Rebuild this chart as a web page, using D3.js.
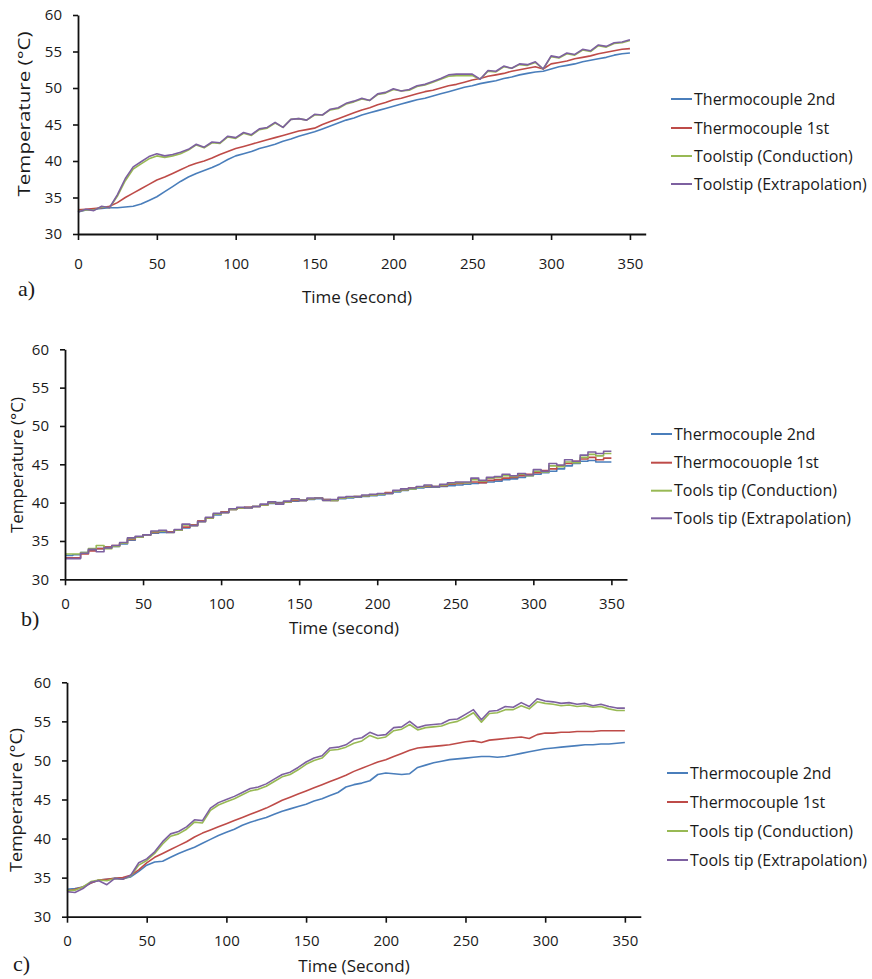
<!DOCTYPE html>
<html>
<head>
<meta charset="utf-8">
<script src="https://cdn.jsdelivr.net/npm/d3@7"></script>
<style>
  html, body { margin: 0; padding: 0; background: #ffffff; }
  svg text { font-family: "Open Sans", sans-serif; fill: #1a1a1a; }
  .panel-tag { font-family: "Liberation Serif", serif; }
</style>
</head>
<body>
<svg id="chart" width="872" height="979"></svg>
<script>
// ── Shared x values (seconds) ──────────────────────
const timeSec = [0,5,10,15,20,25,30,35,40,45,50,55,60,65,70,75,80,85,90,95,
  100,105,110,115,120,125,130,135,140,145,150,155,160,165,170,175,180,185,190,195,
  200,205,210,215,220,225,230,235,240,245,250,255,260,265,270,275,280,285,290,295,
  300,305,310,315,320,325,330,335,340,345,350];

const xTicks = [0, 50, 100, 150, 200, 250, 300, 350];
const yTicks = [30, 35, 40, 45, 50, 55, 60];

// ── Panel a ────────────────────────────────────────
const aTc2 = [33.0,33.3,33.4,33.5,33.6,33.6,33.7,33.8,34.1,34.6,35.1,35.8,36.5,37.2,37.8,38.3,38.7,39.1,39.6,40.2,
  40.7,41.0,41.3,41.7,42.0,42.3,42.7,43.0,43.4,43.7,44.0,44.4,44.8,45.2,45.6,45.9,46.3,46.6,46.9,47.2,
  47.5,47.8,48.1,48.4,48.6,48.9,49.2,49.5,49.8,50.1,50.3,50.6,50.8,51.0,51.3,51.5,51.8,52.0,52.2,52.3,
  52.6,52.9,53.1,53.3,53.6,53.8,54.0,54.2,54.5,54.7,54.8];
const aTc1 = [33.3,33.4,33.5,33.6,33.8,34.3,35.0,35.6,36.2,36.8,37.4,37.8,38.3,38.8,39.3,39.7,40.0,40.4,40.9,41.3,
  41.7,42.0,42.3,42.6,42.9,43.2,43.5,43.8,44.1,44.3,44.5,45.0,45.4,45.8,46.2,46.6,47.0,47.3,47.7,48.0,
  48.4,48.6,48.9,49.2,49.5,49.7,50.0,50.3,50.5,50.8,51.1,51.3,51.6,51.8,52.0,52.3,52.5,52.7,52.9,52.6,
  53.3,53.5,53.7,54.0,54.2,54.4,54.7,54.9,55.1,55.3,55.4];
const aCond = [33.1,33.3,33.3,33.7,33.6,35.2,37.3,38.9,39.6,40.3,40.7,40.5,40.7,41.0,41.5,42.2,41.8,42.5,42.4,43.3,
  43.1,43.8,43.5,44.3,44.5,45.2,44.6,45.7,45.8,45.6,46.3,46.3,47.0,47.2,47.8,48.1,48.5,48.3,49.1,49.3,
  49.8,49.6,49.7,50.2,50.4,50.8,51.2,51.6,51.7,51.7,51.7,51.2,52.3,52.2,52.9,52.7,53.2,53.1,53.5,52.6,
  54.3,54.1,54.7,54.5,55.2,55.0,55.8,55.6,56.1,56.2,56.5];
const aExtra = [33.0,33.4,33.2,33.8,33.6,35.4,37.6,39.2,39.9,40.6,41.0,40.7,40.9,41.2,41.6,42.3,41.9,42.6,42.5,43.4,
  43.2,43.9,43.6,44.4,44.6,45.3,44.6,45.7,45.8,45.6,46.4,46.3,47.1,47.3,47.9,48.2,48.6,48.3,49.2,49.4,
  49.9,49.6,49.8,50.3,50.5,50.9,51.3,51.8,51.9,51.9,51.9,51.2,52.4,52.3,53.0,52.7,53.3,53.2,53.6,52.6,
  54.4,54.2,54.8,54.6,55.3,55.1,55.9,55.7,56.2,56.3,56.6];
const aLabels = ['Thermocouple 2nd', 'Thermocouple 1st', 'Toolstip (Conduction)', 'Toolstip (Extrapolation)'];

// ── Panel b ────────────────────────────────────────
const bTc2 = [33.1,33.2,33.5,33.8,34.0,34.2,34.3,34.6,35.1,35.5,35.8,36.0,36.1,36.2,36.4,36.7,37.1,37.6,38.0,38.4,
  38.8,39.1,39.3,39.4,39.5,39.7,39.9,40.0,40.1,40.2,40.3,40.4,40.5,40.4,40.3,40.5,40.6,40.7,40.8,40.9,
  41.0,41.2,41.4,41.6,41.8,41.9,42.0,42.0,42.1,42.2,42.3,42.4,42.5,42.6,42.7,42.8,43.0,43.1,43.3,43.5,
  43.7,43.9,44.1,44.4,44.8,45.1,45.4,45.5,45.3,45.3,45.3];
const bTc1 = [32.8,32.8,33.3,33.7,34.0,34.2,34.4,34.7,35.2,35.5,35.8,36.1,36.3,36.2,36.4,36.8,37.1,37.6,38.0,38.5,
  38.8,39.1,39.3,39.4,39.5,39.7,40.0,39.9,40.1,40.3,40.3,40.5,40.6,40.4,40.3,40.6,40.7,40.8,40.9,41.0,
  41.1,41.3,41.5,41.7,41.9,42.0,42.1,42.1,42.2,42.4,42.5,42.6,42.7,42.6,42.9,43.0,43.2,43.3,43.5,43.7,
  43.9,44.2,44.4,44.8,45.1,45.4,45.7,45.9,45.6,45.8,45.8];
const bCond = [33.3,33.3,33.5,34.0,34.4,34.0,34.3,34.7,35.3,35.5,35.8,36.2,36.3,36.1,36.4,37.1,37.0,37.5,38.0,38.5,
  38.7,39.1,39.3,39.3,39.5,39.7,40.0,39.8,40.1,40.4,40.3,40.5,40.6,40.3,40.3,40.6,40.7,40.8,40.9,41.0,
  41.1,41.2,41.5,41.7,41.8,42.0,42.2,42.1,42.3,42.5,42.6,42.6,43.0,42.8,43.2,43.3,43.5,43.4,43.7,43.5,
  44.1,44.0,44.8,44.7,45.3,45.2,45.9,46.3,46.1,46.4,46.4];
const bExtra = [32.7,32.7,33.4,33.9,33.6,34.1,34.4,34.8,35.4,35.6,35.8,36.3,36.4,36.1,36.5,37.2,37.0,37.5,38.1,38.6,
  38.7,39.2,39.4,39.3,39.5,39.8,40.1,39.8,40.2,40.5,40.3,40.6,40.6,40.3,40.4,40.7,40.8,40.8,41.0,41.1,
  41.2,41.2,41.6,41.8,41.9,42.1,42.3,42.1,42.4,42.6,42.7,42.7,43.2,42.9,43.3,43.4,43.7,43.5,43.8,43.6,
  44.3,44.1,45.1,44.9,45.6,45.4,46.2,46.6,46.4,46.7,46.7];
const bLabels = ['Thermocouple 2nd', 'Thermocouople 1st', 'Tools tip (Conduction)', 'Tools tip (Extrapolation)'];

// ── Panel c ────────────────────────────────────────
const cTc2 = [33.5,33.6,33.8,34.3,34.7,34.8,34.9,34.9,35.1,35.8,36.6,37.0,37.1,37.6,38.1,38.5,38.9,39.4,39.9,40.4,
  40.8,41.2,41.7,42.1,42.4,42.7,43.1,43.5,43.8,44.1,44.4,44.8,45.1,45.5,45.9,46.6,46.9,47.1,47.4,48.2,
  48.4,48.3,48.2,48.3,49.1,49.4,49.7,49.9,50.1,50.2,50.3,50.4,50.5,50.5,50.4,50.5,50.7,50.9,51.1,51.3,
  51.5,51.6,51.7,51.8,51.9,52.0,52.0,52.1,52.1,52.2,52.3];
const cTc1 = [33.3,33.5,33.8,34.3,34.7,34.8,34.9,35.0,35.3,36.0,36.9,37.6,38.1,38.6,39.1,39.6,40.2,40.7,41.1,41.5,
  41.9,42.3,42.7,43.1,43.5,43.9,44.4,44.9,45.3,45.7,46.1,46.5,46.9,47.3,47.7,48.1,48.6,49.0,49.4,49.8,
  50.1,50.5,50.9,51.3,51.6,51.7,51.8,51.9,52.0,52.2,52.4,52.5,52.3,52.6,52.7,52.8,52.9,53.0,52.8,53.3,
  53.5,53.5,53.6,53.6,53.7,53.7,53.7,53.8,53.8,53.8,53.8];
const cCond = [33.3,33.4,33.8,34.5,34.7,34.6,34.9,34.8,35.2,36.6,37.2,38.1,39.3,40.3,40.6,41.2,42.1,42.0,43.6,44.3,
  44.7,45.1,45.6,46.1,46.3,46.7,47.3,47.9,48.2,48.8,49.5,50.0,50.3,51.3,51.4,51.7,52.2,52.5,53.2,52.8,
  53.0,53.8,54.0,54.6,53.9,54.2,54.3,54.4,54.8,55.0,55.5,56.1,54.9,56.0,56.1,56.5,56.5,57.0,56.6,57.5,
  57.3,57.2,57.0,57.1,56.9,57.0,56.8,56.9,56.6,56.4,56.4];
const cExtra = [33.2,33.1,33.6,34.4,34.6,34.1,34.9,34.8,35.3,36.9,37.4,38.3,39.6,40.6,40.9,41.5,42.4,42.3,43.9,44.6,
  45.0,45.4,45.9,46.4,46.6,47.0,47.6,48.2,48.5,49.1,49.8,50.3,50.6,51.6,51.7,52.0,52.7,52.9,53.6,53.2,
  53.3,54.2,54.3,55.0,54.2,54.5,54.6,54.7,55.2,55.3,55.9,56.5,55.2,56.3,56.4,56.9,56.8,57.4,56.9,57.9,
  57.6,57.5,57.3,57.4,57.2,57.3,57.0,57.2,56.9,56.7,56.7];
const cLabels = ['Thermocouple 2nd', 'Thermocouple 1st', 'Tools tip (Conduction)', 'Tools tip (Extrapolation)'];

const seriesColors = ['#4a7ebb', '#be4b48', '#98b954', '#7d60a0'];

// ── Layout per panel ───────────────────────────────
const panels = [
  { tag: 'a)', series: [aTc2, aTc1, aCond, aExtra], labels: aLabels, xTitle: 'Time (second)',
    x0: 78, x1: 645.7, yTop: 15, yBot: 234, tickPad: 18, curve: d3.curveLinear,
    yTitleX: 30, yTitleY: 114, yTitleLen: 165, xTitleX: 357, xTitleY: 303,
    tagX: 18, tagY: 296, legX: 671, legY: [99, 128, 156, 184] },
  { tag: 'b)', series: [bTc2, bTc1, bCond, bExtra], labels: bLabels, xTitle: 'Time (second)',
    x0: 65, x1: 627, yTop: 349.3, yBot: 579.3, tickPad: 13, curve: d3.curveStepAfter,
    yTitleX: 23, yTitleY: 465, yTitleLen: 136, xTitleX: 344, xTitleY: 634,
    tagX: 21, tagY: 626, legX: 651, legY: [434, 462.7, 490.7, 518.3] },
  { tag: 'c)', series: [cTc2, cTc1, cCond, cExtra], labels: cLabels, xTitle: 'Time (Second)',
    x0: 67, x1: 640.8, yTop: 682.3, yBot: 916.7, tickPad: 13, curve: d3.curveLinear,
    yTitleX: 22, yTitleY: 800, yTitleLen: 144, xTitleX: 354, xTitleY: 972,
    tagX: 13, tagY: 971, legX: 667, legY: [773, 802, 831, 860] }
];

const svg = d3.select('#chart');

panels.forEach(p => {
  const x = d3.scaleLinear().domain([0, 360]).range([p.x0, p.x1]);
  const y = d3.scaleLinear().domain([30, 60]).range([p.yBot, p.yTop]);
  const g = svg.append('g');

  // lines (purple last so it sits on top)
  p.series.forEach((vals, i) => {
    const line = d3.line()
      .x((d, k) => x(timeSec[k]))
      .y(d => y(d))
      .curve(p.curve);
    g.append('path')
      .datum(vals)
      .attr('fill', 'none')
      .attr('stroke', seriesColors[i])
      .attr('stroke-width', 1.6)
      .attr('stroke-linejoin', 'round')
      .attr('d', line);
  });

  // axes
  const xAxis = g.append('g')
    .attr('transform', `translate(0,${p.yBot})`)
    .call(d3.axisBottom(x).tickValues(xTicks).tickSize(6).tickSizeOuter(0).tickPadding(p.tickPad));
  const yAxis = g.append('g')
    .attr('transform', `translate(${p.x0},0)`)
    .call(d3.axisLeft(y).tickValues(yTicks).tickSize(5).tickSizeOuter(0).tickPadding(11));

  [xAxis, yAxis].forEach(ax => {
    ax.select('.domain').attr('stroke', '#111').attr('stroke-width', 1.8);
    ax.selectAll('.tick line').attr('stroke', '#111').attr('stroke-width', 1.6);
    ax.selectAll('.tick text')
      .style('font-family', '"Open Sans", sans-serif')
      .style('font-size', '15px')
      .attr('fill', '#1a1a1a');
  });

  // axis titles
  g.append('text')
    .attr('transform', `translate(${p.yTitleX},${p.yTitleY}) rotate(-90)`)
    .attr('text-anchor', 'middle')
    .attr('font-size', 17)
    .attr('textLength', p.yTitleLen)
    .attr('lengthAdjust', 'spacingAndGlyphs')
    .text('Temperature (°C)');

  g.append('text')
    .attr('x', p.xTitleX)
    .attr('y', p.xTitleY)
    .attr('text-anchor', 'middle')
    .attr('font-size', 17)
    .text(p.xTitle);

  g.append('text')
    .attr('class', 'panel-tag')
    .attr('x', p.tagX)
    .attr('y', p.tagY)
    .attr('font-size', 22)
    .text(p.tag);

  // legend
  p.labels.forEach((lab, i) => {
    const ly = p.legY[i];
    g.append('line')
      .attr('x1', p.legX).attr('x2', p.legX + 21)
      .attr('y1', ly).attr('y2', ly)
      .attr('stroke', seriesColors[i])
      .attr('stroke-width', 2);
    g.append('text')
      .attr('x', p.legX + 23)
      .attr('y', ly)
      .attr('dy', '0.35em')
      .attr('font-size', 16)
      .text(lab);
  });
});
</script>
</body>
</html>
